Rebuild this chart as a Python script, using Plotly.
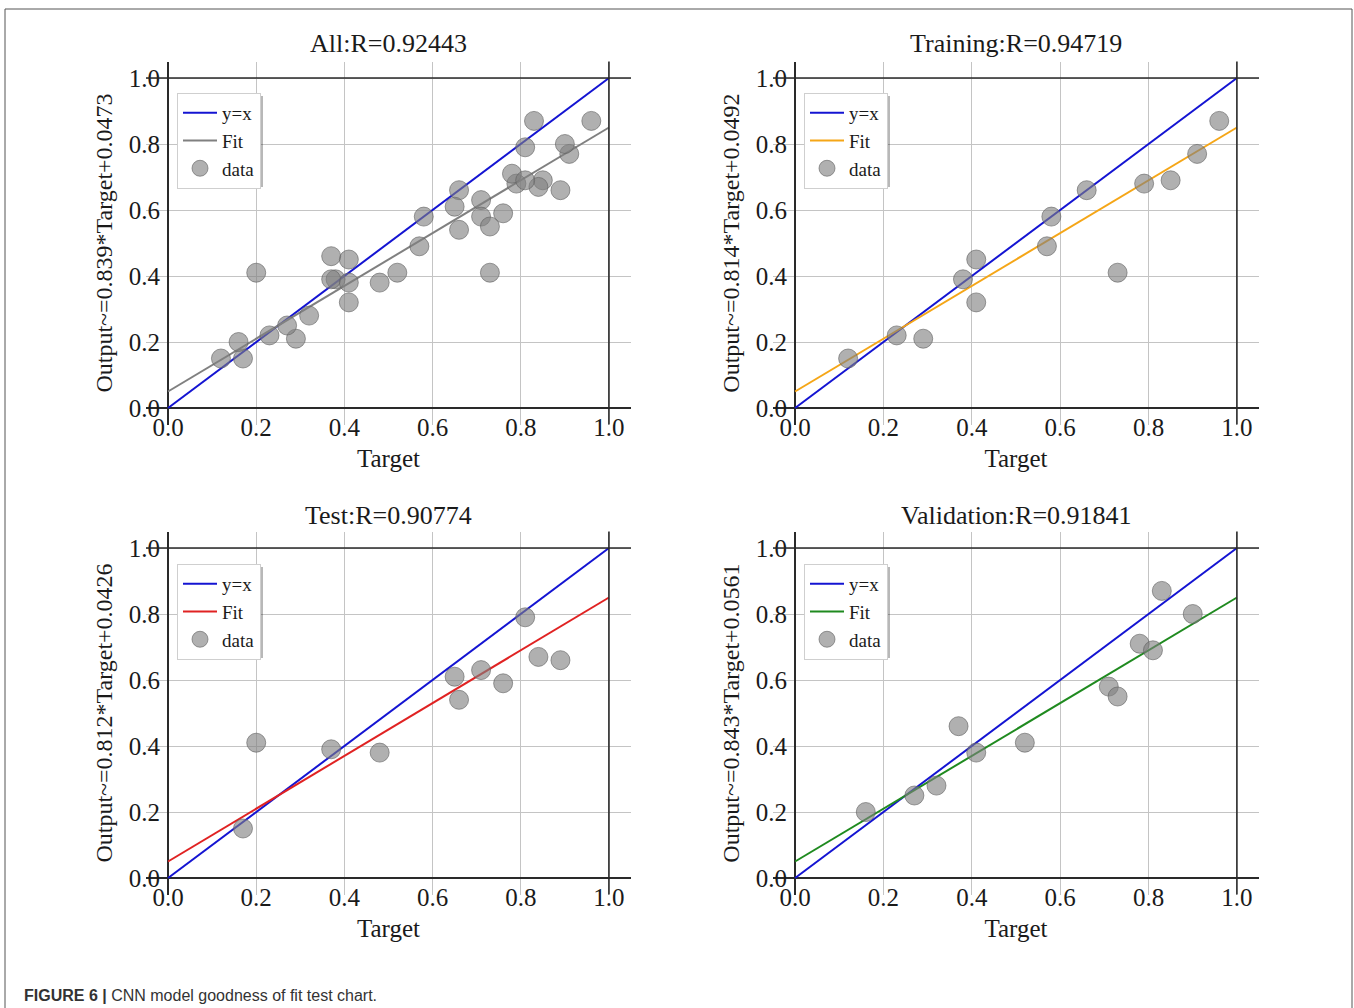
import plotly.graph_objects as go

# ---------------- data ----------------
train_target = [0.12, 0.23, 0.29, 0.38, 0.41, 0.41, 0.57, 0.58, 0.66, 0.73, 0.79, 0.85, 0.91, 0.96]
train_output = [0.15, 0.22, 0.21, 0.39, 0.45, 0.32, 0.49, 0.58, 0.66, 0.41, 0.68, 0.69, 0.77, 0.87]

test_target = [0.17, 0.20, 0.37, 0.48, 0.65, 0.66, 0.71, 0.76, 0.81, 0.84, 0.89]
test_output = [0.15, 0.41, 0.39, 0.38, 0.61, 0.54, 0.63, 0.59, 0.79, 0.67, 0.66]

val_target = [0.16, 0.27, 0.32, 0.37, 0.41, 0.52, 0.71, 0.73, 0.78, 0.81, 0.83, 0.90]
val_output = [0.20, 0.25, 0.28, 0.46, 0.38, 0.41, 0.58, 0.55, 0.71, 0.69, 0.87, 0.80]

all_target = train_target + test_target + val_target
all_output = train_output + test_output + val_output

panel_titles = ["All:R=0.92443", "Training:R=0.94719", "Test:R=0.90774", "Validation:R=0.91841"]
ylabel_texts = [
    "Output~=0.839*Target+0.0473",
    "Output~=0.814*Target+0.0492",
    "Output~=0.812*Target+0.0426",
    "Output~=0.843*Target+0.0561",
]
# fitted lines as drawn in the picture
fit_slope = [0.8, 0.8, 0.8, 0.8]
fit_intercept = [0.05, 0.05, 0.05, 0.05]
line_x = [0.0, 1.0]
tick_vals = [0.0, 0.2, 0.4, 0.6, 0.8, 1.0]
tick_text = ["0.0", "0.2", "0.4", "0.6", "0.8", "1.0"]

panel_targets = [all_target, train_target, test_target, val_target]
panel_outputs = [all_output, train_output, test_output, val_output]

# ---------------- styling ----------------
W, H = 1354, 1008
SERIF = "Liberation Serif"
fit_colors = ["#808080", "#f5a617", "#e02222", "#1f8a1f"]
ident_color = "#1414d2"

# pixel geometry of the plotting areas (left, right, top, bottom)
px_x = [(146, 631), (773, 1259), (146, 631), (773, 1259)]
px_y = [(61.5, 424.5), (61.5, 424.5), (531.5, 894.5), (531.5, 894.5)]
legend_pos = [(177, 93), (804, 93), (177, 564), (804, 564)]
legend_box = (83, 91)  # approx. rendered legend width/height for the drop shadow

fig = go.Figure()
layout = dict(
    width=W, height=H,
    margin=dict(l=0, r=0, t=0, b=0),
    paper_bgcolor="white", plot_bgcolor="white",
    showlegend=True,
    font=dict(family=SERIF, color="#1a1a1a"),
)
shapes = []
annotations = []

for i in range(4):
    n = "" if i == 0 else str(i + 1)
    xa, ya = "x" + n, "y" + n
    leg = "legend" + n
    fy = [fit_slope[i] * v + fit_intercept[i] for v in line_x]

    fig.add_trace(go.Scatter(x=line_x, y=line_x, mode="lines", name="y=x",
                             line=dict(color=ident_color, width=2),
                             xaxis=xa, yaxis=ya, legend=leg))
    fig.add_trace(go.Scatter(x=line_x, y=fy, mode="lines", name="Fit",
                             line=dict(color=fit_colors[i], width=2),
                             xaxis=xa, yaxis=ya, legend=leg))
    fig.add_trace(go.Scatter(x=panel_targets[i], y=panel_outputs[i], mode="markers", name="data",
                             marker=dict(size=19, color="rgba(128,128,128,0.62)",
                                         line=dict(color="rgba(95,95,95,0.6)", width=1)),
                             xaxis=xa, yaxis=ya, legend=leg))

    x0, x1 = px_x[i]
    yt, yb = px_y[i]
    axis_common = dict(
        range=[-0.05, 1.05], tickvals=tick_vals, ticktext=tick_text,
        showgrid=True, gridcolor="#c4c4c4", gridwidth=1,
        zeroline=True, zerolinecolor="#2a2a2a", zerolinewidth=1.6,
        showline=False, ticks="",
        tickfont=dict(family=SERIF, size=25, color="#1a1a1a"),
        fixedrange=True, automargin=False,
    )
    layout["xaxis" + n] = dict(axis_common, domain=[x0 / W, x1 / W], anchor=ya,
                               ticklabelstandoff=-15,
                               title=dict(text="Target", font=dict(family=SERIF, size=25), standoff=9))
    layout["yaxis" + n] = dict(axis_common, domain=[1 - yb / H, 1 - yt / H], anchor=xa,
                               ticklabelstandoff=-15,
                               title=dict(text=ylabel_texts[i], font=dict(family=SERIF, size=24), standoff=9))

    # spines at value 1.0
    shapes.append(dict(type="line", xref=xa, yref=ya + " domain", x0=1, x1=1, y0=0, y1=1,
                       line=dict(color="#2a2a2a", width=1.6), layer="above"))
    shapes.append(dict(type="line", xref=xa + " domain", yref=ya, x0=0, x1=1, y0=1, y1=1,
                       line=dict(color="#2a2a2a", width=1.6), layer="above"))

    # panel title
    title_y = 44 if i < 2 else 515
    annotations.append(dict(text=panel_titles[i], xref="paper", yref="paper",
                            x=(x0 + x1) / 2 / W, y=1 - title_y / H, xanchor="center", yanchor="middle",
                            showarrow=False, font=dict(family=SERIF, size=26, color="#1a1a1a")))

    lx, ly = legend_pos[i]
    layout[leg] = dict(x=lx / W, y=1 - ly / H, xanchor="left", yanchor="top",
                       bgcolor="white", bordercolor="#cfcfcf", borderwidth=1,
                       font=dict(family=SERIF, size=19, color="#1a1a1a"),
                       itemwidth=34)
    # legend drop shadow (drawn beneath the legend box)
    bw, bh = legend_box
    shapes.append(dict(type="rect", xref="paper", yref="paper",
                       x0=(lx + 3) / W, x1=(lx + 3 + bw) / W,
                       y0=1 - (ly + 3 + bh) / H, y1=1 - (ly + 3) / H,
                       fillcolor="rgba(0,0,0,0.28)", line=dict(width=0), layer="above"))

# figure frame
shapes.append(dict(type="rect", xref="paper", yref="paper",
                   x0=5 / W, x1=1352 / W, y0=-0.05, y1=1 - 9 / H,
                   line=dict(color="#555555", width=1), layer="above"))

# caption
annotations.append(dict(text="<b>FIGURE 6 |</b> CNN model goodness of fit test chart.",
                        xref="paper", yref="paper", x=22 / W, y=1 - 995 / H,
                        xanchor="left", yanchor="middle", showarrow=False,
                        font=dict(family="Liberation Sans", size=16, color="#333333")))

layout["shapes"] = shapes
layout["annotations"] = annotations
fig.update_layout(**layout)
fig.write_html("out.html")
